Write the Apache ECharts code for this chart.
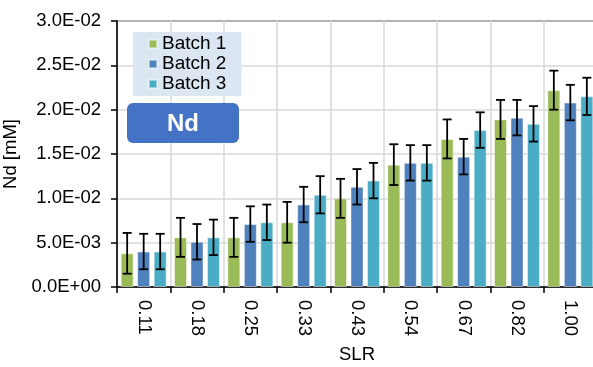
<!DOCTYPE html>
<html>
<head>
<meta charset="utf-8">
<script src="https://cdn.jsdelivr.net/npm/echarts@6/dist/echarts.min.js"></script>
<style>
  html, body { margin: 0; padding: 0; background: #fff; }
  #main { width: 593px; height: 367px; }
</style>
</head>
<body>
<div id="main"></div>
<script>
// data
const slr = ['0.11', '0.18', '0.25', '0.33', '0.43', '0.54', '0.67', '0.82', '1.00'];
const batchNames = ['Batch 1', 'Batch 2', 'Batch 3'];
const batch1 = [0.0038, 0.0056, 0.0056, 0.0073, 0.0100, 0.0138, 0.0167, 0.0189, 0.0222];
const batch2 = [0.0040, 0.0051, 0.0071, 0.0093, 0.0113, 0.0140, 0.0147, 0.0191, 0.0208];
const batch3 = [0.0040, 0.0056, 0.0073, 0.0104, 0.0120, 0.0140, 0.0177, 0.0184, 0.0215];
const batch1Err = [0.0023, 0.0022, 0.0022, 0.0023, 0.0022, 0.0023, 0.0022, 0.0022, 0.0022];
const batch2Err = [0.0020, 0.0020, 0.0020, 0.0020, 0.0020, 0.0020, 0.0020, 0.0020, 0.0020];
const batch3Err = [0.0020, 0.0020, 0.0020, 0.0021, 0.0020, 0.0020, 0.0020, 0.0020, 0.0021];

const colors = ['#9BBB59', '#4F81BD', '#4BACC6'];
const font = 'Arial, "Liberation Sans", sans-serif';

function sci(v) {
    if (Math.abs(v) < 1e-12) return '0.0E+00';
    let e = Math.floor(Math.log10(Math.abs(v)) + 1e-9);
    let m = v / Math.pow(10, e);
    if (Math.round(m * 10) / 10 >= 10) { m = m / 10; e += 1; }
    const sign = e < 0 ? '-' : '+';
    const ae = Math.abs(e);
    return m.toFixed(1) + 'E' + sign + (ae < 10 ? '0' + ae : ae);
}

const barW = 13;
const step = 16.5; // bar width + gap
const values = [batch1, batch2, batch3];
const errs = [batch1Err, batch2Err, batch3Err];

let series = [];
values.forEach((vals, k) => {
    series.push({
        name: batchNames[k],
        type: 'bar',
        barWidth: barW,
        barGap: '27%',
        itemStyle: { color: colors[k], borderColor: 'rgba(255,255,255,0.45)', borderWidth: 1 },
        data: vals
    });
});
values.forEach((vals, k) => {
    const offset = (k - 1) * step;
    series.push({
        name: batchNames[k] + ' err',
        type: 'custom',
        z: 10,
        silent: true,
        renderItem: function (params, api) {
            const x = api.value(0), y = api.value(1), e = api.value(2);
            const hi = api.coord([x, y + e]);
            const lo = api.coord([x, y - e]);
            const cx = hi[0] + offset;
            const st = { stroke: '#000', lineWidth: 1.8 };
            return {
                type: 'group',
                children: [
                    { type: 'line', shape: { x1: cx, y1: hi[1], x2: cx, y2: lo[1] }, style: st },
                    { type: 'line', shape: { x1: cx - 4.5, y1: hi[1], x2: cx + 4.5, y2: hi[1] }, style: st },
                    { type: 'line', shape: { x1: cx - 4.5, y1: lo[1], x2: cx + 4.5, y2: lo[1] }, style: st }
                ]
            };
        },
        data: vals.map((v, i) => [i, v, errs[k][i]])
    });
});

const myChart = echarts.init(document.getElementById('main'), null, { renderer: 'canvas' });
myChart.setOption({
    animation: false,
    color: colors,
    textStyle: { fontFamily: font },
    grid: {
        left: 117, top: 21, right: -4, bottom: 80,
        outerBoundsMode: 'none',
        show: true, borderColor: '#000', borderWidth: 1.5, backgroundColor: 'transparent'
    },
    legend: {
        data: batchNames,
        orient: 'vertical',
        left: 133, top: 32,
        backgroundColor: '#DCE6F2',
        padding: [2, 15, 2, 15],
        itemGap: 0,
        itemWidth: 8, itemHeight: 8,
        icon: 'rect',
        textStyle: { fontSize: 19, color: '#000', fontFamily: font, lineHeight: 20 }
    },
    xAxis: {
        type: 'category',
        data: slr,
        name: 'SLR',
        nameLocation: 'middle',
        nameGap: 58,
        nameTextStyle: { fontSize: 18.5, color: '#000' },
        axisLine: { lineStyle: { color: '#000', width: 1.5 } },
        axisTick: { show: true, interval: 0, length: 6, lineStyle: { color: '#000', width: 1.5 } },
        axisLabel: { rotate: -90, fontSize: 18.5, color: '#000', margin: 13, interval: 0 },
        splitLine: { show: true, interval: 0, lineStyle: { color: '#D9D9D9', width: 1.5 } }
    },
    yAxis: {
        type: 'value',
        min: 0, max: 0.03, interval: 0.005,
        name: 'Nd [mM]',
        nameLocation: 'middle',
        nameGap: 84,
        nameTextStyle: { fontSize: 18.5, color: '#000' },
        axisLine: { show: true, lineStyle: { color: '#000', width: 1.5 } },
        axisTick: { show: true, length: 6, lineStyle: { color: '#000', width: 1.5 } },
        axisLabel: { fontSize: 18.5, color: '#000', margin: 16, formatter: sci },
        splitLine: { show: true, lineStyle: { color: '#D9D9D9', width: 1.5 } }
    },
    graphic: [
        {
            type: 'rect',
            left: 127, top: 103,
            shape: { width: 112, height: 40, r: 6 },
            style: { fill: '#4472C4' },
            z: 20
        },
        {
            type: 'text',
            x: 183, y: 124,
            style: {
                text: 'Nd', fill: '#fff', font: 'bold 24px ' + font,
                textAlign: 'center', textVerticalAlign: 'middle'
            },
            z: 21
        }
    ],
    series: series
});
</script>
</body>
</html>
